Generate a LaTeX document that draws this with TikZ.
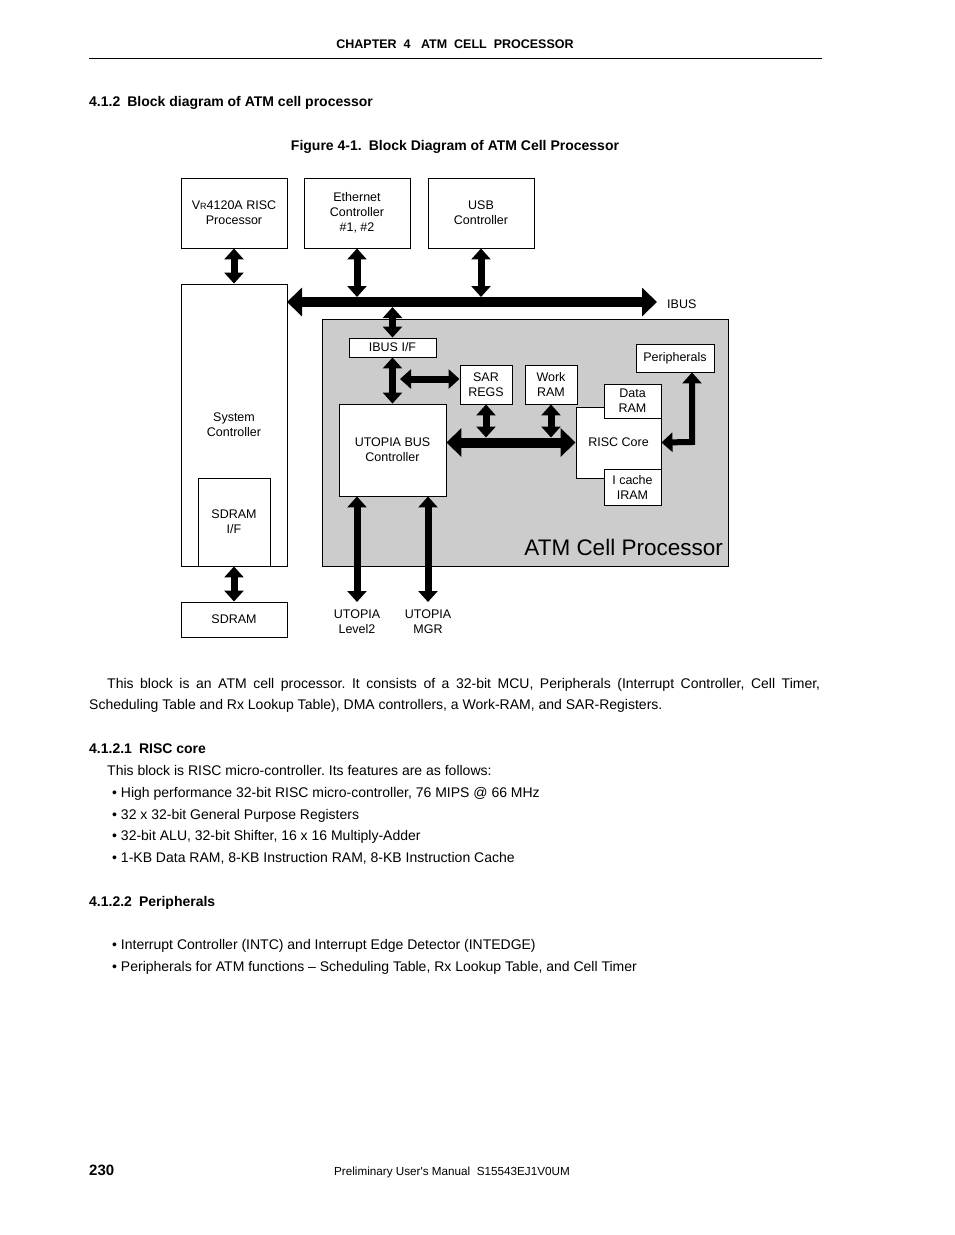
\documentclass[tikz,border=0pt]{standalone}
\usepackage{fontspec}
\setmainfont{Liberation Sans}
\newfontfamily\bodyfont{Liberation Sans}
\usetikzlibrary{arrows.meta}
\definecolor{cellgray}{RGB}{204,204,204}
\frenchspacing
\begin{document}
\begin{tikzpicture}[x=1pt,y=-1pt,
    blk/.style={draw,fill=white,line width=0.9pt,align=center,inner sep=0pt,font=\fontsize{12.5}{15}\selectfont},
    lbl/.style={align=center,inner sep=0pt,font=\fontsize{12.5}{15}\selectfont},
    txt/.style={anchor=base west,inner sep=0pt,font=\bodyfont\fontsize{14}{22}\selectfont},
    hd/.style={anchor=base west,inner sep=0pt,font=\bodyfont\bfseries\fontsize{14}{22}\selectfont},
    dbl/.style={line width=7pt,{Triangle[width=19pt,length=11pt]}-{Triangle[width=19pt,length=11pt]}},
    bus/.style={line width=10pt,{Triangle[width=28pt,length=15pt]}-{Triangle[width=28pt,length=15pt]}}]
    \useasboundingbox[fill=white] (0,0) rectangle (954,1235);
    % page head
    \node[hd,anchor=base,font=\bodyfont\bfseries\fontsize{12.5}{14}\selectfont] (chap) at (455,48.5) {CHAPTER\ \ 4\ \ \ ATM\ \ CELL\ \ PROCESSOR};
    \draw[line width=0.9pt] (89,58)--(822,58);
    \node[hd] (sec) at (89,106) {4.1.2\hspace{7pt}Block diagram of ATM cell processor};
    \node[hd,anchor=base] (fig) at (455,150) {Figure 4-1.\hspace{7pt}Block Diagram of ATM Cell Processor};
    % diagram
    \node[draw,fill=cellgray,line width=0.9pt,minimum width=406,minimum height=247,inner sep=0pt] (atm) at (525,442.5) {};
    \node[anchor=base east,inner sep=0pt,font=\fontsize{22.5}{26}\selectfont] (atmname) at (723,555) {ATM Cell Processor};
    \node[blk,minimum width=106,minimum height=70] (vr) at (234,213) {V{\fontsize{9}{10}\selectfont R}4120A RISC\\Processor};
    \node[blk,minimum width=106,minimum height=70] (eth) at (357,213) {Ethernet\\Controller\\\#1, \#2};
    \node[blk,minimum width=106,minimum height=70] (usb) at (481,213) {USB\\Controller};
    \node[blk,minimum width=106,minimum height=282] (sys) at (234,425) {System\\Controller};
    \node[blk,minimum width=72,minimum height=88] (sdramif) at (234,522) {SDRAM\\I/F};
    \node[blk,minimum width=106,minimum height=35] (sdram) at (234,619.5) {SDRAM};
    \node[blk,minimum width=87,minimum height=19] (ibusif) at (392.5,347.5) {IBUS I/F};
    \node[blk,minimum width=52,minimum height=39] (sar) at (486,384.5) {SAR\\REGS};
    \node[blk,minimum width=52,minimum height=39] (work) at (551,384.5) {Work\\RAM};
    \node[blk,minimum width=107,minimum height=92] (utopia) at (392.5,450) {UTOPIA BUS\\Controller};
    \node[blk,minimum width=85,minimum height=71] (risc) at (618.5,442.5) {RISC Core};
    \node[blk,minimum width=57,minimum height=34] (dram) at (632.5,401) {Data\\RAM};
    \node[blk,minimum width=57,minimum height=36] (icache) at (632.5,487) {I cache\\IRAM};
    \node[blk,minimum width=78,minimum height=28] (periph) at (675,358) {Peripherals};
    \node[lbl,anchor=west] (ibus) at (667,304) {IBUS};
    \node[lbl] (lvl2) at (357,622) {UTOPIA\\Level2};
    \node[lbl] (mgr) at (428,622) {UTOPIA\\MGR};
    \coordinate (ibusL) at (287,302);
    \coordinate (ibusR) at (657,302);
    \coordinate (sarL) at (400,379);
    \coordinate (pbend) at (692,442);
    \coordinate (lvl2end) at (357,602);
    \coordinate (mgrend) at (428,602);
    \draw[dbl] (vr)--(sys);
    \draw[dbl] (sdramif.south)--(sdram.north);
    \draw[dbl,shorten >=5pt] (eth.south)--(eth.south |- ibusL);
    \draw[dbl,shorten >=5pt] (usb.south)--(usb.south |- ibusL);
    \draw[dbl,shorten <=5pt] (ibusif.north |- ibusL)--(ibusif.north);
    \draw[bus] (ibusL)--(ibusR);
    \draw[dbl] (ibusif.south)--(utopia.north);
    \draw[dbl] (sarL)--(sarL -| sar.west);
    \draw[dbl,shorten >=5pt] (sar.south)--(sar.south |- risc.west);
    \draw[dbl,shorten >=5pt] (work.south)--(work.south |- risc.west);
    \draw[bus] (utopia.east |- risc.west)--(risc.west);
    \draw[dbl,line width=6pt] (risc.east)--(pbend)--(pbend |- periph.south);
    \draw[dbl] (lvl2end |- utopia.south)--(lvl2end);
    \draw[dbl] (mgrend |- utopia.south)--(mgrend);
    % body text
    \node[txt] (par1) at (107,688) {\makebox[713pt][s]{This block is an ATM cell processor. It consists of a 32-bit MCU, Peripherals (Interrupt Controller, Cell Timer,}};
    \node[txt] (par2) at (89,709) {Scheduling Table and Rx Lookup Table), DMA controllers, a Work-RAM, and SAR-Registers.};
    \node[hd] (risch) at (89,753) {4.1.2.1\hspace{7pt}RISC core};
    \node[txt] (riscp) at (107,775) {This block is RISC micro-controller. Its features are as follows:};
    \node[txt] (b1) at (112,797) {\textbullet\ High performance 32-bit RISC micro-controller, 76 MIPS @ 66 MHz};
    \node[txt] (b2) at (112,819) {\textbullet\ 32 x 32-bit General Purpose Registers};
    \node[txt] (b3) at (112,840) {\textbullet\ 32-bit ALU, 32-bit Shifter, 16 x 16 Multiply-Adder};
    \node[txt] (b4) at (112,862) {\textbullet\ 1-KB Data RAM, 8-KB Instruction RAM, 8-KB Instruction Cache};
    \node[hd] (perh) at (89,906) {4.1.2.2\hspace{7pt}Peripherals};
    \node[txt] (b5) at (112,949) {\textbullet\ Interrupt Controller (INTC) and Interrupt Edge Detector (INTEDGE)};
    \node[txt] (b6) at (112,971) {\textbullet\ Peripherals for ATM functions – Scheduling Table, Rx Lookup Table, and Cell Timer};
    % page foot
    \node[hd,font=\bodyfont\bfseries\fontsize{15}{18}\selectfont] (pg) at (89,1175) {230};
    \node[txt,anchor=base,font=\bodyfont\fontsize{11.7}{14}\selectfont] (foot) at (452,1175) {Preliminary User's Manual\ \ S15543EJ1V0UM};
\end{tikzpicture}
\end{document}
